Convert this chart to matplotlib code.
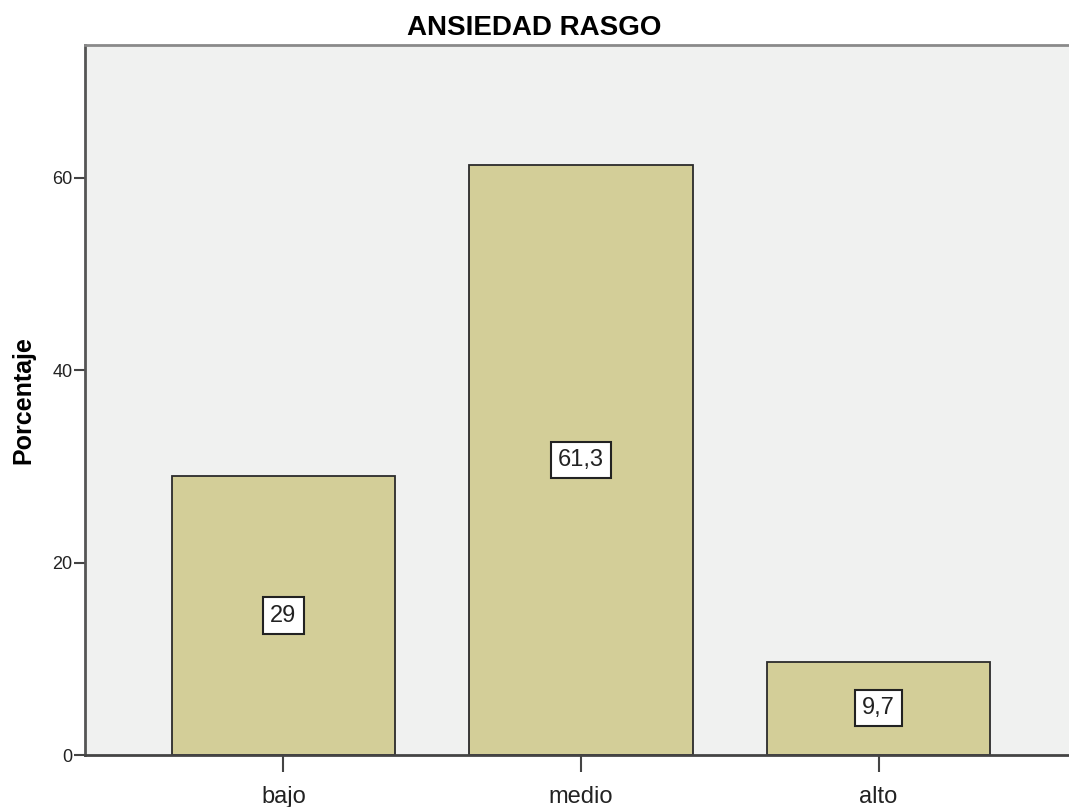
import matplotlib.pyplot as plt

plt.rcParams['font.family'] = ['Liberation Sans', 'DejaVu Sans']

categories = ['bajo', 'medio', 'alto']
percentages = [29.0, 61.3, 9.7]
value_labels = ['29', '61,3', '9,7']
y_ticks = [0, 20, 40, 60]

fig = plt.figure(figsize=(10.69, 8.07), dpi=100)
# axes runs a bit past the right edge, as in the original export
ax = fig.add_axes([85 / 1069, 52 / 807, 992 / 1069, 710 / 807])
ax.set_facecolor('#f0f1f0')

pos = list(range(len(categories)))
ax.bar(pos, percentages, width=0.75, color='#d3ce98', edgecolor='#2b2b2b', linewidth=1.3, zorder=2)

for x, v, lab in zip(pos, percentages, value_labels):
    ax.text(x, v / 2, lab, ha='center', va='center', fontsize=17, color='#222222', zorder=3,
            bbox=dict(boxstyle='square,pad=0.3', facecolor='white', edgecolor='#222222', linewidth=1.5))

ax.set_xlim(-0.667, 2.667)
ax.set_ylim(0, 73.8)
ax.set_xticks(pos)
ax.set_xticklabels(categories, fontsize=17, color='#222222')
ax.set_yticks(y_ticks)
ax.set_yticklabels([str(t) for t in y_ticks], fontsize=13, color='#222222')
ax.tick_params(axis='y', length=8, width=1.5, color='#444444', pad=1)
ax.tick_params(axis='x', length=12, width=1.5, color='#444444', pad=10)

ax.spines['left'].set_color('#555555')
ax.spines['left'].set_linewidth(2)
ax.spines['bottom'].set_color('#444444')
ax.spines['bottom'].set_linewidth(2)
ax.spines['top'].set_color('#8a8a8a')
ax.spines['top'].set_linewidth(2)
ax.spines['right'].set_visible(False)

ax.set_ylabel('Porcentaje', fontsize=18, fontweight='bold', labelpad=12)
fig.text(0.5, 1 - 28 / 807, 'ANSIEDAD RASGO', ha='center', va='center', fontsize=20, fontweight='bold')

fig.savefig('out.png', dpi=100)
